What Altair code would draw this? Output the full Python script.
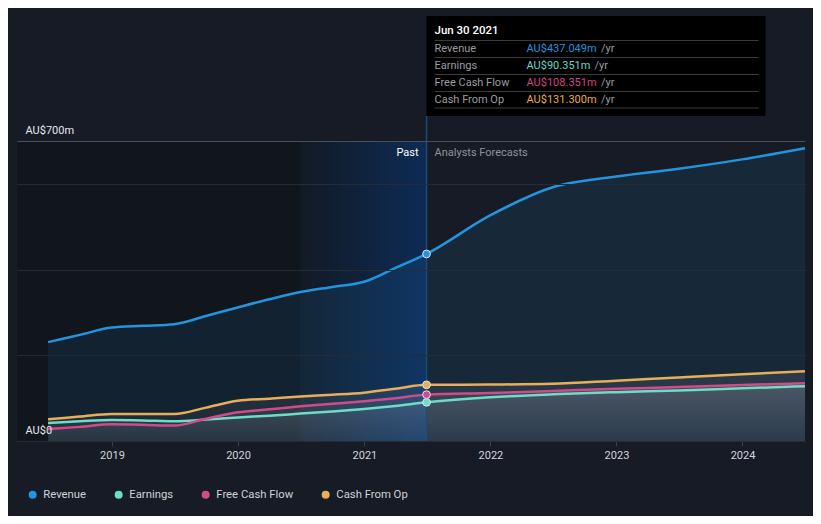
import altair as alt
import pandas as pd

# ---------------- data ----------------
dates = ["2018-06-30", "2018-09-30", "2018-12-31", "2019-03-31", "2019-06-30",
         "2019-09-30", "2019-12-31", "2020-03-31", "2020-06-30", "2020-09-30",
         "2020-12-31", "2021-03-31", "2021-06-30",
         "2021-12-31", "2022-06-30", "2022-12-31", "2023-06-30", "2023-12-31", "2024-06-30"]
revenue = [231, 248, 265, 269, 273, 292, 312, 331, 348, 360, 372, 404, 437.049,
           527, 593, 618, 636, 658, 684]
earnings = [42, 46, 49, 48, 46, 50, 55, 59, 64, 69, 75, 82, 90.351,
            102, 109, 114, 118, 123, 128]
fcf = [28, 33, 39, 38, 36, 52, 67, 74, 81, 87, 93, 100, 108.351,
       112, 117, 122, 126, 131, 135]
cfo = [51, 57, 63, 63, 63, 78, 94, 99, 104, 108, 113, 122, 131.3,
       132, 133.5, 141, 148.5, 156, 163]

series_names = ["Revenue", "Earnings", "Free Cash Flow", "Cash From Op"]
series_colors = ["#2394df", "#6fdcc7", "#d14b88", "#e8ae59"]
tooltip_date = "2021-06-30"
tooltip_title = "Jun 30 2021"
tooltip_values = ["AU$437.049m", "AU$90.351m", "AU$108.351m", "AU$131.300m"]
value_colors = ["#2394df", "#5fdac6", "#d1468a", "#eaaa4e"]
x_start, x_end = "2018-04-01", "2024-06-30"
past_start = "2020-06-30"

# ---------------- frames ----------------
rows = []
for name, vals in zip(series_names, [revenue, earnings, fcf, cfo]):
    for d, v in zip(dates, vals):
        rows.append({"date": d, "series": name, "value": v})
df = pd.DataFrame(rows)
df_rev = df[df.series == "Revenue"]
df_small = df[df.series != "Revenue"]
df_pts = df[df.date == tooltip_date]

bg_df = pd.DataFrame([
    {"start": x_start, "end": past_start, "lo": 0, "hi": 700, "kind": "dark"},
    {"start": past_start, "end": tooltip_date, "lo": 0, "hi": 700, "kind": "band"},
])
anchor = pd.DataFrame([{"date": tooltip_date, "value": 700}])

FONT = "Roboto"
x_scale = alt.Scale(domain=[alt.DateTime(year=2018, month=4, date=1),
                            alt.DateTime(year=2024, month=6, date=30)])
y_scale = alt.Scale(domain=[0, 993], nice=False, zero=True)
x_axis = alt.Axis(format="%Y", tickCount="year", title=None, grid=False,
                  domainColor="#3a404b", tickColor="#3a404b", tickSize=5,
                  labelColor="#d3d6db", labelFontSize=11, labelFont=FONT,
                  labelPadding=3)
y_axis = alt.Axis(values=[0, 200, 400, 600, 700], title=None, domain=False, ticks=False,
                  labelExpr="datum.value == 0 ? 'AU$0' : (datum.value == 700 ? 'AU$700m' : '')",
                  labelAlign="left", labelBaseline="bottom", labelPadding=-8,
                  labelOffset=-6, labelColor="#e6e8eb", labelFontSize=11, labelFont=FONT,
                  gridColor={"condition": {"test": "datum.value === 700", "value": "#4a505b"},
                             "value": "#262c37"},
                  zindex=1)

X = alt.X("date:T", scale=x_scale, axis=x_axis)
Y = alt.Y("value:Q", scale=y_scale, axis=y_axis, stack=None)

dark = alt.Chart(bg_df[bg_df.kind == "dark"]).mark_rect(color="#11151c").encode(
    x=alt.X("start:T", scale=x_scale, axis=x_axis), x2="end:T",
    y=alt.Y("hi:Q", scale=y_scale, axis=y_axis), y2="lo:Q")
band = alt.Chart(bg_df[bg_df.kind == "band"]).mark_rect(
    color=alt.Gradient(gradient="linear", x1=0, x2=1, y1=0, y2=0,
                       stops=[alt.GradientStop(color="#121a25", offset=0),
                              alt.GradientStop(color="#0d2b55", offset=1)])).encode(
    x=alt.X("start:T", scale=x_scale, axis=x_axis), x2="end:T",
    y=alt.Y("hi:Q", scale=y_scale, axis=y_axis), y2="lo:Q")

rev_area = alt.Chart(df_rev).mark_area(interpolate="monotone", color="#2394df",
                                       opacity=0.11).encode(x=X, y=Y)
small_area = alt.Chart(df_small).mark_area(
    interpolate="monotone",
    color=alt.Gradient(gradient="linear", x1=0, x2=0, y1=0, y2=1,
                       stops=[alt.GradientStop(color="rgba(200,205,215,0.11)", offset=0),
                              alt.GradientStop(color="rgba(200,205,215,0.04)", offset=1)])
).encode(x=X, y=Y, detail="series:N")

lines = []
for name, col in zip(series_names, series_colors):
    lines.append(alt.Chart(df[df.series == name]).mark_line(
        interpolate="monotone", strokeWidth=2.5, color=col).encode(x=X, y=Y))

vline = alt.Chart(anchor).mark_rule(color="#1e4a7a", strokeWidth=1.5).encode(
    x=X, y=alt.value(100), y2=alt.value(425))

pts = alt.Chart(df_pts).mark_circle(size=60, opacity=1, stroke="#dfe6ee", strokeWidth=1).encode(
    x=X, y=Y,
    color=alt.Color("series:N", scale=alt.Scale(domain=series_names, range=series_colors),
                    legend=alt.Legend(orient="none", legendX=10, legendY=473,
                                      direction="horizontal", title=None,
                                      symbolType="circle", symbolSize=64,
                                      symbolStrokeWidth=0, labelColor="#d0d3d8",
                                      labelFontSize=11.3, labelFont=FONT,
                                      labelOffset=5, columnPadding=26)))

past_txt = alt.Chart(anchor).mark_text(text="Past", align="right", dx=-8, dy=12,
                                       baseline="middle", color="#ffffff",
                                       fontSize=11, font=FONT).encode(x=X, y=Y)
fc_txt = alt.Chart(anchor).mark_text(text="Analysts Forecasts", align="left", dx=8, dy=12,
                                     baseline="middle", color="#8e939b",
                                     fontSize=11, font=FONT).encode(x=X, y=Y)

# tooltip box
tip = [alt.Chart(anchor).mark_rect(color="#000000", x2Offset=339).encode(
    x=X, x2="date:T", y=alt.value(0), y2=alt.value(100))]
for py in [24.5, 41.5, 58.5, 75.5, 92]:
    tip.append(alt.Chart(anchor).mark_rule(color="#3b3b3b", strokeWidth=1,
                                           xOffset=8, x2Offset=332).encode(
        x=X, x2="date:T", y=alt.value(py)))
tip.append(alt.Chart(anchor).mark_text(text=tooltip_title, align="left", dx=8,
                                       baseline="middle", color="#ffffff", fontSize=11.5,
                                       font=FONT, fontWeight=500).encode(
    x=X, y=alt.value(15)))
for i, (lab, val, col) in enumerate(zip(series_names, tooltip_values, value_colors)):
    py = 32.5 + 17 * i
    tip.append(alt.Chart(anchor).mark_text(text=lab, align="left", dx=8, baseline="middle",
                                           color="#9a9ca0", fontSize=11, font=FONT).encode(
        x=X, y=alt.value(py)))
    tip.append(alt.Chart(anchor).mark_text(text=val, align="left", dx=100, baseline="middle",
                                           color=col, fontSize=11, font=FONT).encode(
        x=X, y=alt.value(py)))
    tip.append(alt.Chart(anchor).mark_text(text="/yr", align="left",
                                           dx=100 + len(val) * 6.4 + 4, baseline="middle",
                                           color="#9a9ca0", fontSize=11, font=FONT).encode(
        x=X, y=alt.value(py)))

chart = alt.layer(dark, band, rev_area, small_area, *lines, vline, pts, past_txt, fc_txt,
                  *tip).properties(
    width=788, height=425, background="#161b26",
    autosize=alt.AutoSizeParams(type="none"),
    padding={"left": 9, "top": 8, "right": 8, "bottom": 75},
).configure_view(strokeWidth=0)

chart.save("out.html", embed_options={"renderer": "svg", "actions": False})
